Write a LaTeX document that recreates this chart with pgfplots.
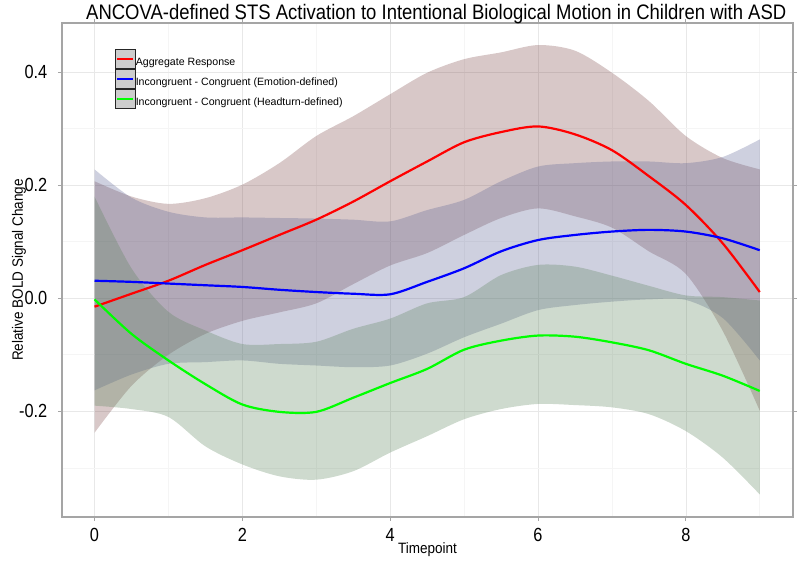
\documentclass[border=0pt]{standalone}
\usepackage{pgfplots}
\pgfplotsset{compat=1.18}
\usepackage{pgfplotstable}
\usepgfplotslibrary{fillbetween}
\usepackage{fontspec}
\setmainfont{Liberation Sans}
\newfontfamily\narrowfont[FakeStretch=0.86]{Liberation Sans}
\newfontfamily\titlefont[FakeStretch=0.88]{Liberation Sans}
\newfontfamily\labelfont[FakeStretch=0.9]{Liberation Sans}
\definecolor{rfill}{RGB}{125,72,72}
\definecolor{bfill}{RGB}{92,98,148}
\definecolor{gfill}{RGB}{92,132,92}
\definecolor{legbg}{RGB}{205,205,205}
\definecolor{framegray}{RGB}{165,165,165}
\definecolor{lred}{RGB}{255,0,0}
\definecolor{lblue}{RGB}{0,0,255}
\definecolor{lgreen}{RGB}{0,255,0}

\pgfplotstableread{
x    rm     rlo     rhi    bm     blo     bhi    gm      glo     ghi
0    -0.015 -0.238  0.207  0.031  -0.163  0.228  -0.002  -0.190  0.180
0.5  0.008  -0.155  0.180  0.029  -0.135  0.178  -0.063  -0.196  0.053
1    0.031  -0.100  0.167  0.026  -0.116  0.153  -0.110  -0.210  -0.024
1.5  0.059  -0.063  0.177  0.023  -0.113  0.143  -0.152  -0.262  -0.057
2    0.085  -0.040  0.201  0.020  -0.110  0.143  -0.188  -0.294  -0.081
2.5  0.112  -0.025  0.239  0.015  -0.116  0.142  -0.201  -0.315  -0.081
3    0.139  -0.009  0.287  0.011  -0.119  0.141  -0.201  -0.321  -0.077
3.5  0.171  0.025   0.322  0.008  -0.122  0.139  -0.176  -0.306  -0.054
4    0.207  0.058   0.361  0.007  -0.119  0.136  -0.150  -0.273  -0.036
4.5  0.242  0.080   0.399  0.029  -0.098  0.156  -0.125  -0.244  -0.009
5    0.276  0.112   0.423  0.053  -0.069  0.174  -0.091  -0.214  0.002
5.5  0.294  0.142   0.435  0.083  -0.045  0.207  -0.075  -0.196  0.041
6    0.304  0.159   0.448  0.103  -0.021  0.233  -0.066  -0.187  0.059
6.5  0.290  0.145   0.438  0.112  -0.012  0.239  -0.068  -0.189  0.056
7    0.262  0.125   0.399  0.118  -0.006  0.242  -0.078  -0.193  0.040
7.5  0.216  0.083   0.349  0.121  -0.002  0.242  -0.092  -0.205  0.022
8    0.165  0.043   0.287  0.118  -0.003  0.239  -0.116  -0.235  0.005
8.5  0.097  -0.058  0.248  0.106  -0.035  0.250  -0.137  -0.282  0.002
9    0.011  -0.199  0.228  0.085  -0.110  0.281  -0.164  -0.347  -0.004
}\data

\begin{document}
\begin{tikzpicture}
\begin{axis}[
  at={(0pt,0pt)}, anchor=south west,
  scale only axis, width=731pt, height=494pt,
  xmin=-0.44, xmax=9.45, ymin=-0.387, ymax=0.487,
  xtick={0,2,4,6,8}, xticklabels={0,2,4,6,8},
  ytick={-0.2,0,0.2,0.4}, yticklabels={-0.2,0.0,0.2,0.4},
  minor xtick={1,3,5,7,9}, minor ytick={-0.3,-0.1,0.1,0.3},
  grid=both,
  major grid style={color=black!9, line width=0.6pt},
  minor grid style={color=black!4, line width=0.6pt},
  axis line style={color=framegray, line width=1.2pt},
  tick align=outside, major tick length=4pt, minor tick length=0pt,
  tick style={color=framegray, line width=0.8pt},
  tick label style={font=\narrowfont\fontsize{19}{19}\selectfont},
  yticklabel style={inner sep=0pt, xshift=-10.5pt},
  xticklabel style={inner sep=0pt, yshift=-7pt},
  xlabel={Timepoint},
  ylabel={Relative BOLD Signal Change},
  xlabel style={font=\labelfont\fontsize{15}{15}\selectfont, at={(axis description cs:0.5,0)}, anchor=base, yshift=-37pt},
  ylabel style={font=\labelfont\fontsize{15}{15}\selectfont, at={(axis description cs:-0.0534,0.5)}, anchor=base},
  title={ANCOVA-defined STS Activation to Intentional Biological Motion in Children with ASD},
  title style={font=\titlefont\fontsize{21}{21}\selectfont, at={(axis description cs:0.512,1)}, anchor=base, yshift=-3pt},
  legend style={at={(axis description cs:0.0725,0.947)}, anchor=north west, draw=none, fill=none,
    inner sep=0pt, outer sep=0pt, row sep=0pt, font=\fontsize{10.6}{10.6}\selectfont,
    nodes={inner sep=0pt}, /tikz/every even column/.append style={column sep=2pt}},
  legend cell align=left,
  clip=true,
]
\addplot[draw=none, name path=rhi, smooth, forget plot] table[x=x, y=rhi]{\data};
\addplot[draw=none, name path=rlo, smooth, forget plot] table[x=x, y=rlo]{\data};
\addplot[draw=none, name path=bhi, smooth, forget plot] table[x=x, y=bhi]{\data};
\addplot[draw=none, name path=blo, smooth, forget plot] table[x=x, y=blo]{\data};
\addplot[draw=none, name path=ghi, smooth, forget plot] table[x=x, y=ghi]{\data};
\addplot[draw=none, name path=glo, smooth, forget plot] table[x=x, y=glo]{\data};
\addplot[fill=rfill, fill opacity=0.3, draw=none, forget plot] fill between[of=rhi and rlo];
\addplot[fill=bfill, fill opacity=0.3, draw=none, forget plot] fill between[of=bhi and blo];
\addplot[fill=gfill, fill opacity=0.3, draw=none, forget plot] fill between[of=ghi and glo];
\addplot[lred, line width=2.2pt, smooth, forget plot] table[x=x, y=rm]{\data};
\addplot[lblue, line width=2.2pt, smooth, forget plot] table[x=x, y=bm]{\data};
\addplot[lgreen, line width=2.2pt, smooth, forget plot] table[x=x, y=gm]{\data};
\addlegendimage{legend image code/.code={\draw[draw=black!85, fill=legbg, line width=0.8pt] (0pt,-6.6pt) rectangle (20pt,12.6pt); \draw[draw=lred, line width=2pt] (2pt,3pt) -- (18pt,3pt);}}
\addlegendentry{Aggregate Response}
\addlegendimage{legend image code/.code={\draw[draw=black!85, fill=legbg, line width=0.8pt] (0pt,-6.6pt) rectangle (20pt,12.6pt); \draw[draw=lblue, line width=2pt] (2pt,3pt) -- (18pt,3pt);}}
\addlegendentry{Incongruent - Congruent (Emotion-defined)}
\addlegendimage{legend image code/.code={\draw[draw=black!85, fill=legbg, line width=0.8pt] (0pt,-6.6pt) rectangle (20pt,12.6pt); \draw[draw=lgreen, line width=2pt] (2pt,3pt) -- (18pt,3pt);}}
\addlegendentry{Incongruent - Congruent (Headturn-defined)}
\end{axis}
\pgfresetboundingbox
\useasboundingbox (-62pt,-44pt) rectangle (738pt,517pt);
\end{tikzpicture}
\end{document}
